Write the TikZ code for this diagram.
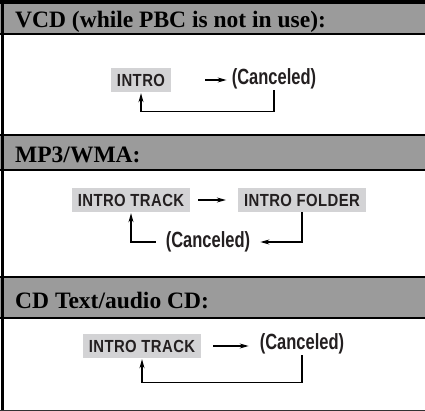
\documentclass[tikz,border=0pt]{standalone}
\usepackage{fontspec}
\setmainfont{Liberation Serif}
\newfontfamily\labelfont[FakeStretch=0.85, LetterSpace=2.5]{Liberation Sans}
\newfontfamily\condfont[FakeStretch=0.75]{Liberation Sans}
\usetikzlibrary{arrows.meta, positioning}

\definecolor{bandgray}{HTML}{9B9B9B}
\definecolor{boxgray}{HTML}{D3D3D5}
\definecolor{inkgray}{HTML}{231F20}

\begin{document}
\begin{tikzpicture}[
    x=1pt, y=-1pt,
    header/.style={
        anchor=base west, inner sep=0pt,
        font=\fontsize{23.5}{26}\selectfont\bfseries
    },
    mode/.style={
        fill=boxgray, text=inkgray, inner xsep=6pt, inner ysep=0pt,
        minimum height=24pt, font=\labelfont\fontsize{17.5}{19}\selectfont\bfseries
    },
    cancel/.style={
        inner sep=1pt, text=inkgray,
        font=\condfont\fontsize{22}{24}\selectfont\bfseries
    },
    flow/.style={line width=1.2pt, -{Stealth[length=9pt,width=5pt]}}
]
\useasboundingbox (0,0) rectangle (425,411);

%% Frame and header bands
\fill[bandgray] (0,4) rectangle (425,34);
\fill[bandgray] (0,135) rectangle (425,170);
\fill[bandgray] (0,277) rectangle (425,318);
\fill[black] (0,0) rectangle (425,4);
\foreach \y in {34,135,170,277,318}
    \draw[line width=1.5pt] (0,\y) -- (425,\y);
\draw[line width=3pt] (2.5,0) -- (2.5,411);
\draw[line width=1pt, black!80] (0,410) -- (425,410);

%% VCD
\node (hvcd) [header] at (15,28) {VCD (while PBC is not in use):};
\node (intro1)  [mode]   at (141,80) {INTRO};
\node (cancel1) [cancel] at (274,79) {(Canceled)};
\draw [flow, shorten <=34pt, shorten >=4pt] (intro1.east) -- (intro1.east -| cancel1.west);
\draw [flow, shorten >=1pt] (cancel1.south) -- ++(0,21) -| (intro1.south);

%% MP3/WMA
\node (hmp3) [header] at (15,163) {MP3/WMA:};
\node (track2)  [mode]   at (131,200) {INTRO TRACK};
\node (folder2) [mode]   at (302,200) {INTRO FOLDER};
\node (cancel2) [cancel] at (208,242) {(Canceled)};
\draw [flow, shorten <=8pt, shorten >=12pt] (track2.east) -- (folder2.west);
\draw [flow, shorten >=9pt] (folder2.south) |- (cancel2.east);
\draw [flow, shorten <=9pt, shorten >=1pt] (cancel2.west) -| (track2.south);

%% CD Text/audio CD
\node (hcd) [header] at (15,308) {CD Text/audio CD:};
\node (track3)  [mode]   at (142,346) {INTRO TRACK};
\node (cancel3) [cancel] at (302,344) {(Canceled)};
\draw [flow, shorten <=12pt, shorten >=10pt] (track3.east) -- (track3.east -| cancel3.west);
\draw [flow, shorten >=1pt] (cancel3.south) -- ++(0,27) -| (track3.south);

\end{tikzpicture}
\end{document}
